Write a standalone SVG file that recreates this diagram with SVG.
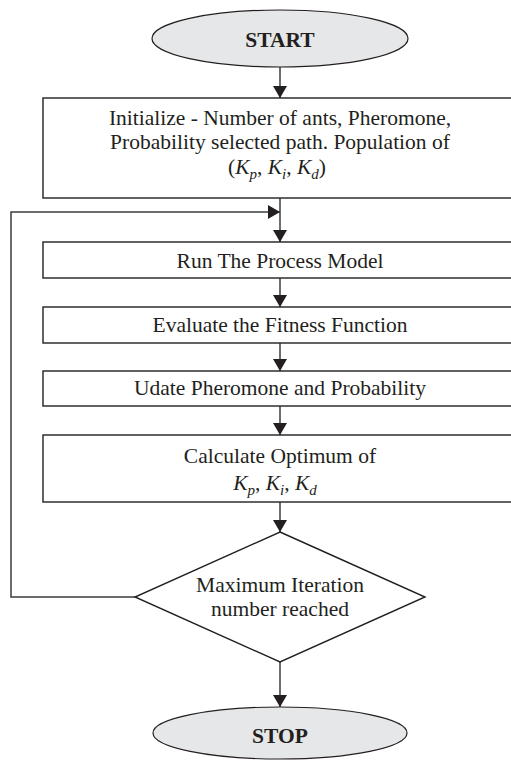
<svg xmlns="http://www.w3.org/2000/svg" width="511" height="760" viewBox="0 0 511 760">
<defs>
<style>
.t{font-family:"Liberation Serif","Times New Roman",serif;font-size:21.5px;fill:#231f20;text-anchor:middle}
.b{font-weight:bold}
.box{fill:#fff;stroke:#231f20;stroke-width:1.4}
.ell{fill:#e6e7e8;stroke:#231f20;stroke-width:1.2}
.ln{fill:none;stroke:#3c3c3c;stroke-width:1.5}
.i{font-style:italic}
</style>
<marker id="ah" viewBox="0 0 12 14" refX="12" refY="7" markerWidth="12" markerHeight="14" markerUnits="userSpaceOnUse" orient="auto">
<path d="M0,0 L12,7 L0,14 Z" fill="#231f20"/>
</marker>
</defs>
<rect width="511" height="760" fill="#fff"/>
<g id="connectors">
<line class="ln" x1="280" y1="67" x2="280" y2="98" marker-end="url(#ah)"/>
<line class="ln" x1="280" y1="198" x2="280" y2="242" marker-end="url(#ah)"/>
<polyline class="ln" points="135,597 11,597 11,212 280,212" marker-end="url(#ah)"/>
<line class="ln" x1="280" y1="278" x2="280" y2="307" marker-end="url(#ah)"/>
<line class="ln" x1="280" y1="343" x2="280" y2="371" marker-end="url(#ah)"/>
<line class="ln" x1="280" y1="406" x2="280" y2="435" marker-end="url(#ah)"/>
<line class="ln" x1="280" y1="502" x2="280" y2="532" marker-end="url(#ah)"/>
<line class="ln" x1="280" y1="662" x2="280" y2="707" marker-end="url(#ah)"/>
</g>
<g id="start">
<ellipse class="ell" cx="280" cy="38.5" rx="128" ry="28.5"/>
<text class="t b" x="280" y="47">START</text>
</g>
<g id="init">
<rect class="box" x="43" y="98" width="480" height="100"/>
<text class="t" x="280" y="125">Initialize - Number of ants, Pheromone,</text>
<text class="t" x="280" y="149">Probability selected path. Population of</text>
<text class="t" x="277" y="174">(<tspan class="i">K</tspan><tspan class="i" font-size="15" dy="5">p</tspan><tspan dy="-5">, </tspan><tspan class="i">K</tspan><tspan class="i" font-size="15" dy="5">i</tspan><tspan dy="-5">, </tspan><tspan class="i">K</tspan><tspan class="i" font-size="15" dy="5">d</tspan><tspan dy="-5">)</tspan></text>
</g>
<g id="run">
<rect class="box" x="43" y="242" width="480" height="36"/>
<text class="t" x="280" y="268">Run The Process Model</text>
</g>
<g id="evaluate">
<rect class="box" x="43" y="307" width="480" height="36"/>
<text class="t" x="280" y="332">Evaluate the Fitness Function</text>
</g>
<g id="update">
<rect class="box" x="43" y="371" width="480" height="35"/>
<text class="t" x="280" y="395">Udate Pheromone and Probability</text>
</g>
<g id="calculate">
<rect class="box" x="43" y="435" width="480" height="67"/>
<text class="t" x="280" y="463">Calculate Optimum of</text>
<text class="t" x="275" y="490"><tspan class="i">K</tspan><tspan class="i" font-size="15" dy="5">p</tspan><tspan dy="-5">, </tspan><tspan class="i">K</tspan><tspan class="i" font-size="15" dy="5">i</tspan><tspan dy="-5">, </tspan><tspan class="i">K</tspan><tspan class="i" font-size="15" dy="5">d</tspan></text>
</g>
<g id="decision">
<polygon class="box" points="280,532 425,597 280,662 135,597"/>
<text class="t" x="280" y="592">Maximum Iteration</text>
<text class="t" x="280" y="616">number reached</text>
</g>
<g id="stop">
<ellipse class="ell" cx="280" cy="733" rx="127" ry="26"/>
<text class="t b" x="280" y="743">STOP</text>
</g>
</svg>
